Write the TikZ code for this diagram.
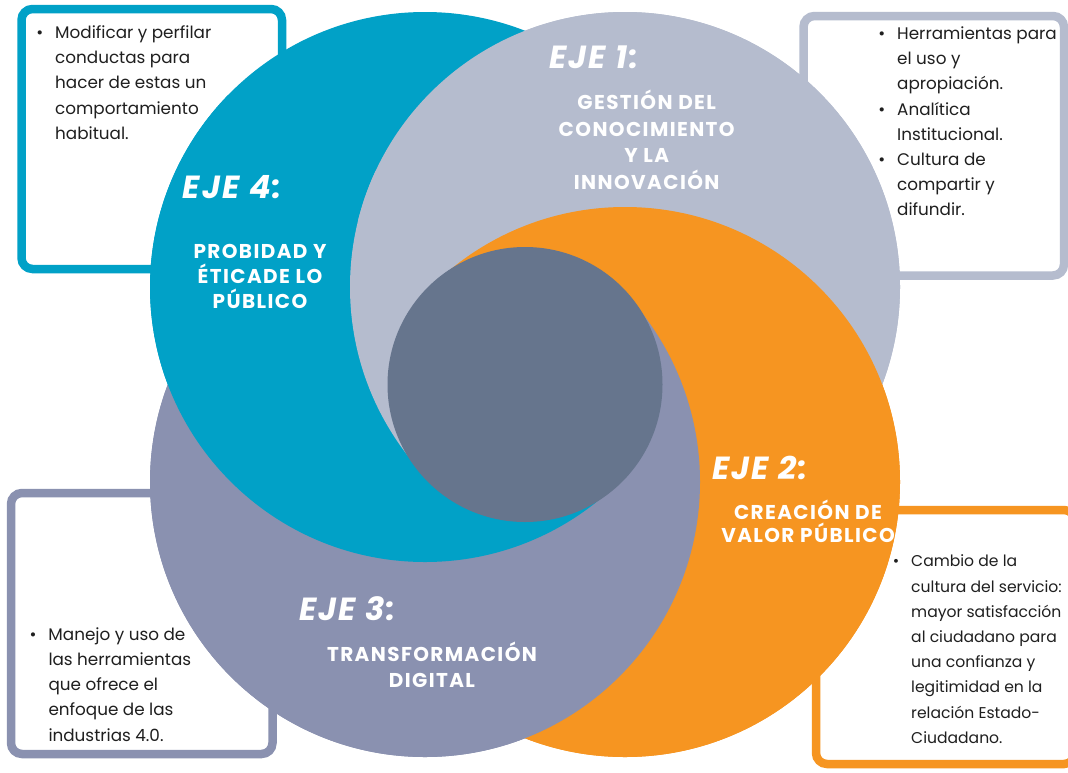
\documentclass[tikz,border=0pt]{standalone}
\usepackage{fontspec}
\setmainfont{Poppins}
\newfontfamily\capsfont[LetterSpace=7]{Poppins}
\newfontfamily\ejefont[LetterSpace=6]{Poppins}
\usetikzlibrary{calc}

\definecolor{ejecol1}{HTML}{B5BCCE}
\definecolor{ejecol2}{HTML}{F69521}
\definecolor{ejecol3}{HTML}{8A91B0}
\definecolor{ejecol4}{HTML}{01A1C7}
\definecolor{centrocol}{HTML}{66758D}
\definecolor{textocol}{HTML}{1F1F1F}

\tikzset{
  caja/.style={line width=8.5pt, rounded corners=11pt, fill=white},
  ejenum/.style={anchor=west, inner sep=0pt, text=white,
    font=\ejefont\fontsize{32}{32}\selectfont\bfseries\itshape},
  ejetxt/.style={anchor=north, align=center, inner sep=0pt, text=white,
    font=\capsfont\fontsize{20}{#1}\selectfont\bfseries},
  lista/.style={anchor=north west, align=left, inner sep=0pt, text=textocol,
    font=\fontsize{16.8}{25.2}\selectfont},
}
\newcommand\alto{\rule{0pt}{18pt}}
\newcommand\altocap{\rule{0pt}{22pt}}
\newcommand\bul{\llap{\textbullet\hspace{12pt}}}
\newcommand\anillo[1]{\fill[ejecol#1] (eje#1) circle[radius=\Radius];}
% ring #1 laid again over the sector from angle #2 to angle #3
\newcommand\encima[3]{%
  \begin{scope}
    \clip (centro) -- ++(#2:1500) arc[start angle=#2, end angle=#3, radius=1500] -- cycle;
    \anillo{#1}
  \end{scope}}

\begin{document}
\begin{tikzpicture}[x=1pt,y=-1pt]
  % Frame
  \useasboundingbox (0,0) rectangle (1068,772);
  \clip (0,0) rectangle (1068,772);
  \fill[white] (0,0) rectangle (1068,772);
  % Define coordinates
  \def\Radius{275}
  \def\d{44.27}
  \path
    (525,384.5) coordinate (centro)
    (625,287) coordinate (eje1)
    (625,482) coordinate (eje2)
    (425,482) coordinate (eje3)
    (425,287) coordinate (eje4)
  ;
  % Boxes behind the rings
  \draw[caja, draw=ejecol4] (21.5,9) rectangle (282,269);
  \draw[caja, draw=ejecol1] (803.5,16) rectangle (1064,275.5);
  \draw[caja, draw=ejecol3] (11,493) rectangle (272.5,754);
  \draw[caja, draw=ejecol2] (816,510) rectangle (1075,764);
  % Rings: full ones, then each laid over the next one by sectors
  \anillo{1}\anillo{2}\anillo{3}\anillo{4}
  \encima{1}{180-\d}{360+\d}
  \encima{2}{180+\d}{540-\d}
  \encima{3}{360-\d}{540}
  \encima{4}{\d}{180+\d}
  \encima{1}{180-\d}{235}
  % Center
  \fill[centrocol] (centro) circle[radius=137.5];
  % Ring titles
  \node[ejenum] (n1) at (549,57.5) {EJE 1:};
  \node[ejetxt=26.7] (t1) at (646.7,87.3)
    {\altocap GESTIÓN DEL\\CONOCIMIENTO\\Y LA\\INNOVACIÓN};
  \node[ejenum] (n2) at (712,468) {EJE 2:};
  \node[ejetxt=23.3] (t2) at (808,497.3) {\altocap CREACIÓN DE\\VALOR PÚBLICO};
  \node[ejenum] (n3) at (299,609) {EJE 3:};
  \node[ejetxt=25.5] (t3) at (432,639.7) {\altocap TRANSFORMACIÓN\\DIGITAL};
  \node[ejenum] (n4) at (182.7,187.5) {EJE 4:};
  \node[ejetxt=25] (t4) at (260,236.3) {\altocap PROBIDAD Y\\ÉTICADE LO\\PÚBLICO};
  % Box texts
  \node[lista] (l4) at (55,20.3) {\alto\bul Modificar y perfilar\\conductas para\\
    hacer de estas un\\comportamiento\\habitual.};
  \node[lista] (l1) at (897,21.3) {\alto\bul Herramientas para\\el uso y\\
    apropiación.\\\bul Analítica\\Institucional.\\\bul Cultura de\\
    compartir y\\difundir.};
  \node[lista] (l3) at (48.3,622) {\alto\bul Manejo y uso de\\las herramientas\\
    que ofrece el\\enfoque de las\\industrias 4.0.};
  \node[lista, font=\fontsize{15.6}{25.2}\selectfont] (l2) at (911,548.7)
    {\alto\bul Cambio de la\\cultura del servicio:\\
    mayor satisfacción\\al ciudadano para\\una confianza y\\legitimidad en la\\
    relación Estado-\\Ciudadano.};
\end{tikzpicture}
\end{document}
